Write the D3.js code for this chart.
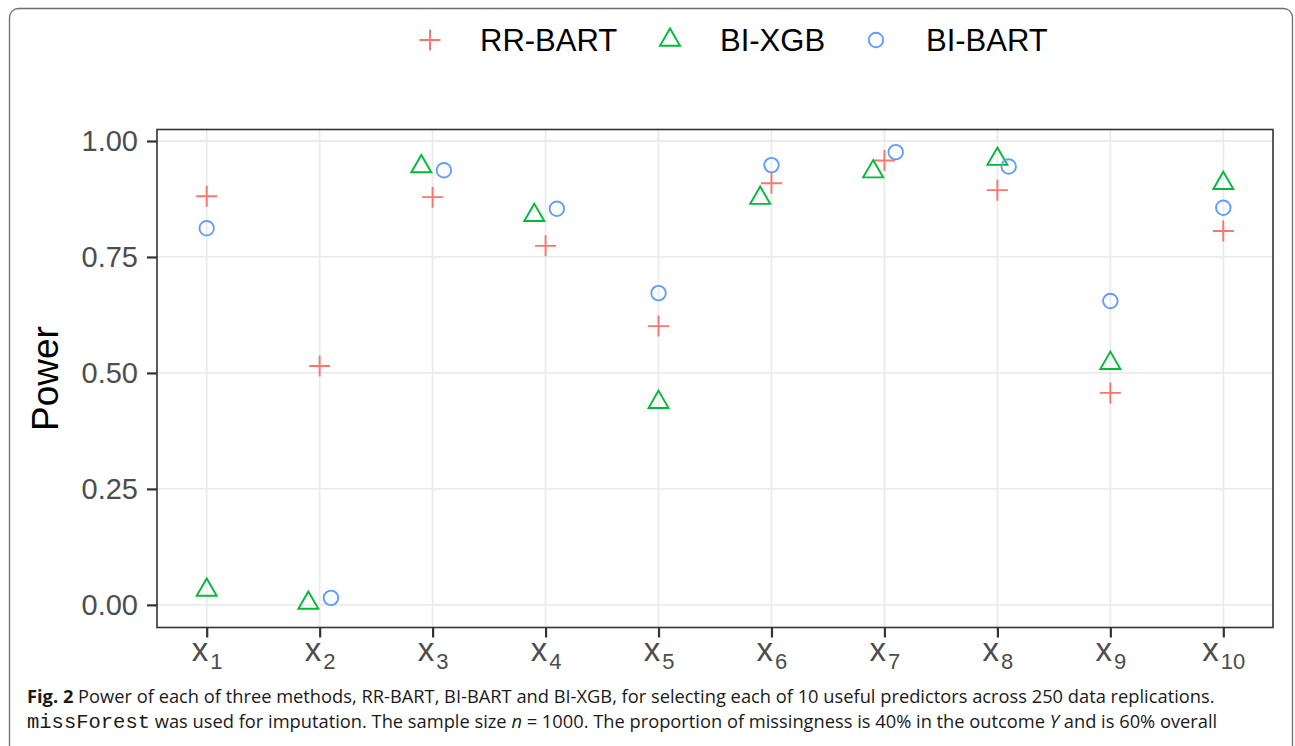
<!DOCTYPE html>
<html>
<head>
<meta charset="utf-8">
<script src="https://cdn.jsdelivr.net/npm/d3@7"></script>
<style>
  body { margin: 0; background: #fff; }
  svg { display: block; }
</style>
</head>
<body>
<div id="chart"></div>
<script>
// predictors x1..x10 (subscript shown on the axis)
const predictors = ["1", "2", "3", "4", "5", "6", "7", "8", "9", "10"];
const methods = ["RR-BART", "BI-XGB", "BI-BART"];

// power per predictor
const rrBart = [0.881, 0.515, 0.879, 0.774, 0.601, 0.909, 0.958, 0.894, 0.457, 0.806];
const biXgb  = [0.032, 0.004, 0.945, 0.840, 0.437, 0.877, 0.934, 0.961, 0.521, 0.909];
const biBart = [0.812, 0.015, 0.937, 0.854, 0.672, 0.948, 0.976, 0.945, 0.655, 0.856];

// dodge group of each point (-1 left, 0 centre, 1 right)
const rrDodge   = [0, 0, 0, 0, 0, 0, 0, 0, 0, 0];
const xgbDodge  = [0, -1, -1, -1, 0, -1, -1, 0, 0, 0];
const bartDodge = [0, 1, 1, 1, 0, 0, 1, 1, 0, 0];

const yTicks = [0, 0.25, 0.5, 0.75, 1];

var opt = {
  width: 1295, height: 746,
  panel: {left: 157, right: 1273, top: 129.5, bottom: 627.5},
  colors: {"RR-BART": "#F8766D", "BI-XGB": "#00BA38", "BI-BART": "#619CFF"}
};

var svg = d3.select("#chart").append("svg")
  .attr("width", opt.width)
  .attr("height", opt.height);

// outer frame of the figure
svg.append("rect")
  .attr("x", 9.5).attr("y", 8.5)
  .attr("width", 1283).attr("height", 760)
  .attr("rx", 9)
  .style("fill", "none")
  .style("stroke", "#6e6e6e")
  .style("stroke-width", 1.3);

var x = d3.scalePoint()
  .domain(predictors)
  .range([opt.panel.left, opt.panel.right])
  .padding(0.44);

var y = d3.scaleLinear()
  .domain([-0.0488, 1.0248])
  .range([opt.panel.bottom, opt.panel.top]);

var dodgeW = x.step() * 0.1;

// grid
var grid = svg.append("g");
grid.selectAll("line.h").data(yTicks).enter().append("line")
  .attr("x1", opt.panel.left).attr("x2", opt.panel.right)
  .attr("y1", d => y(d)).attr("y2", d => y(d))
  .style("stroke", "#ebebeb").style("stroke-width", 1.8);
grid.selectAll("line.v").data(predictors).enter().append("line")
  .attr("y1", opt.panel.top).attr("y2", opt.panel.bottom)
  .attr("x1", d => x(d)).attr("x2", d => x(d))
  .style("stroke", "#ebebeb").style("stroke-width", 1.8);

// symbols, drawn as outlines like ggplot shapes 3, 2 and 1
var plus = {draw: function(ctx, size) {
  var r = Math.sqrt(size) / 2;
  ctx.moveTo(-r, 0); ctx.lineTo(r, 0);
  ctx.moveTo(0, -r); ctx.lineTo(0, r);
}};
var triangle = {draw: function(ctx, size) {
  var s = Math.sqrt(size);
  var h = s * Math.sqrt(3) / 2;
  ctx.moveTo(0, -h * 2 / 3);
  ctx.lineTo(s / 2, h / 3);
  ctx.lineTo(-s / 2, h / 3);
  ctx.closePath();
}};
var circle = {draw: function(ctx, size) {
  var r = Math.sqrt(size) / 2;
  ctx.moveTo(r, 0);
  ctx.arc(0, 0, r, 0, 2 * Math.PI);
}};
var shapes = {
  "RR-BART": d3.symbol().type(plus).size(21 * 21),
  "BI-XGB": d3.symbol().type(triangle).size(20 * 20),
  "BI-BART": d3.symbol().type(circle).size(14.5 * 14.5)
};

var series = [
  {name: "RR-BART", values: rrBart, dodge: rrDodge},
  {name: "BI-XGB", values: biXgb, dodge: xgbDodge},
  {name: "BI-BART", values: biBart, dodge: bartDodge}
];

var points = [];
series.forEach(function(s) {
  predictors.forEach(function(p, i) {
    points.push({method: s.name, pred: p, value: s.values[i], dodge: s.dodge[i]});
  });
});

svg.append("g").selectAll("path").data(points).enter().append("path")
  .attr("d", d => shapes[d.method]())
  .attr("transform", d => "translate(" + (x(d.pred) + d.dodge * dodgeW) + "," + y(d.value) + ")")
  .style("fill", "none")
  .style("stroke", d => opt.colors[d.method])
  .style("stroke-width", 1.9);

// panel border
svg.append("rect")
  .attr("x", opt.panel.left).attr("y", opt.panel.top)
  .attr("width", opt.panel.right - opt.panel.left)
  .attr("height", opt.panel.bottom - opt.panel.top)
  .style("fill", "none").style("stroke", "#333").style("stroke-width", 1.6);

// y axis
var yAxis = svg.append("g")
  .attr("transform", "translate(" + opt.panel.left + ",0)")
  .call(d3.axisLeft(y).tickValues(yTicks).tickFormat(d3.format(".2f")).tickSize(10).tickPadding(9));
yAxis.select(".domain").remove();
yAxis.selectAll(".tick line").style("stroke", "#333").style("stroke-width", 2.2);
yAxis.selectAll(".tick text")
  .style("font-family", "'Liberation Sans', Arial, sans-serif")
  .style("font-size", "29px")
  .style("fill", "#4d4d4d");

// x axis
var xAxis = svg.append("g")
  .attr("transform", "translate(0," + opt.panel.bottom + ")")
  .call(d3.axisBottom(x).tickSize(10).tickFormat(""));
xAxis.select(".domain").remove();
xAxis.selectAll(".tick line").style("stroke", "#333").style("stroke-width", 2.2);
var xl = xAxis.selectAll(".tick text")
  .attr("y", 33)
  .attr("dy", null)
  .style("font-family", "'Liberation Sans', Arial, sans-serif")
  .style("fill", "#4d4d4d")
  .attr("text-anchor", "middle");
xl.append("tspan").style("font-size", "33px").text("x");
xl.append("tspan").attr("dy", 8).attr("dx", 2).style("font-size", "22px").text(d => d);

// y title
svg.append("text")
  .attr("transform", "translate(58," + ((opt.panel.top + opt.panel.bottom) / 2) + ") rotate(-90)")
  .attr("text-anchor", "middle")
  .style("font-family", "'Liberation Sans', Arial, sans-serif")
  .style("font-size", "37px")
  .style("fill", "#000")
  .text("Power");

// legend
var legendX = {"RR-BART": 430, "BI-XGB": 670, "BI-BART": 876};
var legend = svg.append("g").selectAll("g").data(methods).enter().append("g")
  .attr("transform", d => "translate(" + legendX[d] + ",40)");
legend.append("path")
  .attr("d", d => shapes[d]())
  .style("fill", "none")
  .style("stroke", d => opt.colors[d])
  .style("stroke-width", 1.9);
legend.append("text")
  .attr("x", 50).attr("y", 11)
  .style("font-family", "'Liberation Sans', Arial, sans-serif")
  .style("font-size", "31px")
  .style("fill", "#000")
  .text(d => d);

// caption
var cap = svg.append("g")
  .style("font-family", "'Open Sans', 'Noto Sans', sans-serif")
  .style("font-size", "18.3px")
  .style("fill", "#1a1a1a");
var line1 = cap.append("text").attr("x", 27).attr("y", 703);
line1.append("tspan").style("font-weight", "bold").text("Fig. 2");
line1.append("tspan").text(" Power of each of three methods, RR-BART, BI-BART and BI-XGB, for selecting each of 10 useful predictors across 250 data replications.");
var line2 = cap.append("text").attr("x", 27).attr("y", 728);
line2.append("tspan").style("font-family", "'Liberation Mono', 'DejaVu Sans Mono', monospace").style("font-size", "20.5px").text("missForest");
line2.append("tspan").text(" was used for imputation. The sample size ");
line2.append("tspan").style("font-style", "italic").text("n");
line2.append("tspan").text(" = 1000. The proportion of missingness is 40% in the outcome ");
line2.append("tspan").style("font-style", "italic").text("Y");
line2.append("tspan").text(" and is 60% overall");
</script>
</body>
</html>
